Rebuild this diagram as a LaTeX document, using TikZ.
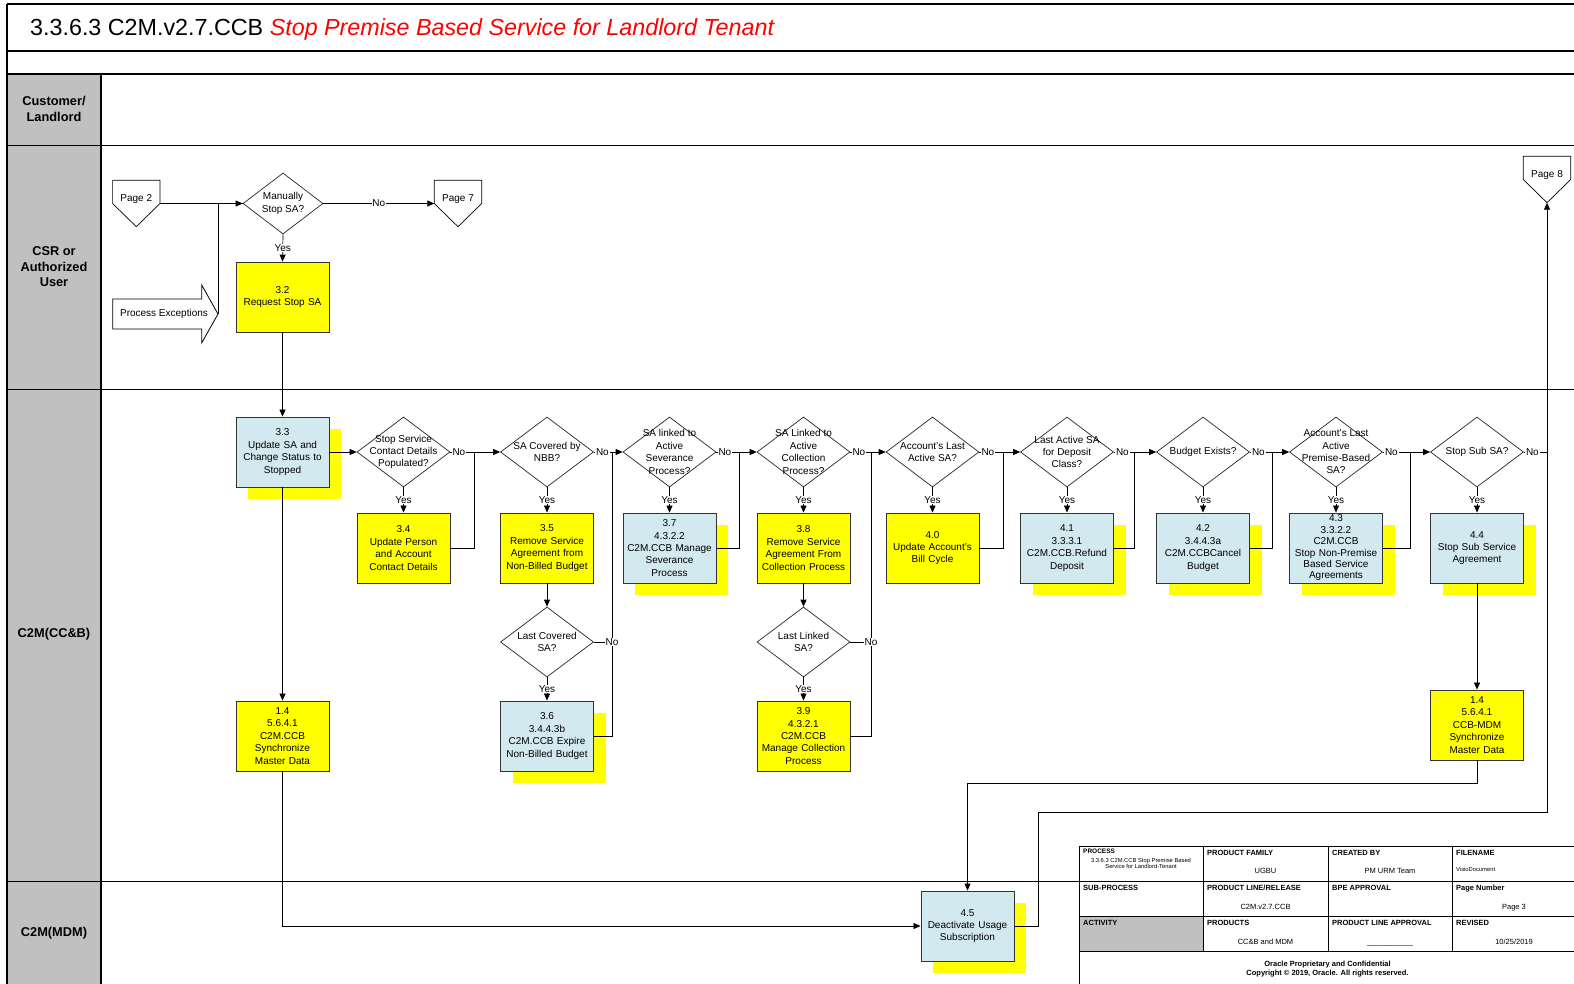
\documentclass[tikz,border=0pt]{standalone}
\usepackage{fontspec}
\setmainfont{Liberation Sans}
\usetikzlibrary{arrows.meta,shapes.geometric,shadows}

\definecolor{procyellow}{RGB}{255,255,0}
\definecolor{subblue}{RGB}{210,233,239}
\definecolor{lanegray}{RGB}{192,192,192}
\definecolor{titlered}{RGB}{255,0,0}

\begin{document}
\begin{tikzpicture}[x=1pt, y=-1pt]
\tikzset{
	proc/.style = {
		draw=black!80, line width=0.9pt,
		fill=procyellow,
		minimum width=93pt, minimum height=70pt,
		text width=90pt, inner sep=1.5pt, align=center,
		font=\fontsize{10}{12.4}\selectfont
	},
	sub/.style = {
		proc, fill=subblue,
		drop shadow={shadow xshift=12pt, shadow yshift=-12pt,
			fill=procyellow, opacity=1}
	},
	decision/.style = {
		diamond, draw=black!85, line width=0.7pt, fill=white,
		minimum width=93pt, minimum height=70pt, inner sep=0pt
	},
	dtext/.style = {
		align=center, inner sep=0pt,
		font=\fontsize{10}{12.4}\selectfont
	},
	offpage/.style = {
		minimum width=47pt, minimum height=46pt, inner sep=0pt
	},
	ptext/.style = {inner sep=0pt, yshift=4.5pt, font=\fontsize{10}{12}\selectfont},
	wire/.style = {draw, line width=0.7pt},
	flow/.style = {wire, -{Triangle[length=7pt, width=6pt]}},
	lbl/.style = {fill=white, inner sep=0.8pt, font=\fontsize{10}{12}\selectfont},
	nolbl/.style = {lbl, pos=0, anchor=west, xshift=1pt},
	lane/.style = {line width=1.3pt},
	lanelbl/.style = {align=center, font=\fontsize{12.8}{15.5}\selectfont\bfseries},
	tline/.style = {line width=0.7pt},
	thead/.style = {anchor=base west, inner sep=0pt, font=\fontsize{7.5}{9}\selectfont\bfseries},
	tval/.style = {anchor=base, inner sep=0pt, font=\fontsize{7.5}{9}\selectfont},
}
\useasboundingbox (0,0) rectangle (1574,984);

% swim lanes
\fill[lanegray] (7,74) rectangle (101,990);
\foreach \y in {4,51,74,145.5,389.5,881.5}
  \draw[lane] (7,\y) -- (1580,\y);
\draw[lane] (7,4) -- (7,990);
\draw[lane] (101,74) -- (101,990);

\node[anchor=base west, inner sep=0pt, font=\fontsize{23.3}{28}\selectfont] (title) at (30,35.5)
  {3.3.6.3 C2M.v2.7.CCB \textcolor{titlered}{\itshape Stop Premise Based Service for Landlord Tenant}};

\node[lanelbl] (lcust) at (54,109) {Customer/\\Landlord};
\node[lanelbl] (lcsr) at (54,267) {CSR or\\Authorized\\User};
\node[lanelbl] (lccb) at (54,634.5) {C2M(CC\&B)};
\node[lanelbl] (lmdm) at (54,933.5) {C2M(MDM)};

% entry points
\draw[wire, line width=0.8pt] (112.7,299) -- (201.7,299) -- (201.7,285) -- (218,314)
  -- (201.7,343) -- (201.7,329) -- (112.7,329) -- cycle;
\node[inner sep=0pt, font=\fontsize{10}{12}\selectfont] (pe) at (164,314) {Process Exceptions};
\coordinate (pet) at (218,314);

\node[offpage, label={[ptext]center:Page 2}] (p2) at (136.3,203.5) {};
\node[offpage, label={[ptext]center:Page 7}] (p7) at (458,203.5) {};
\node[offpage, label={[ptext]center:Page 8}] (p8) at (1547,179.5) {};
\foreach \p in {p2,p7,p8}
  \draw[wire] (\p.north west) -- (\p.north east) -- (\p.east) -- (\p.south) -- (\p.west) -- cycle;

% decisions
\node[decision, minimum width=80pt, minimum height=61pt,
  label={[dtext]center:Manually\\Stop SA?}] (ms) at (283,203.5) {};

\foreach \i/\x/\txt in {
  1/403.5/{Stop Service\\Contact Details\\Populated?},
  2/547/{SA Covered by\\NBB?},
  3/669.5/{SA linked to\\Active\\Severance\\Process?},
  4/803.5/{SA Linked to\\Active\\Collection\\Process?},
  5/932.5/{Account's Last\\Active SA?},
  6/1067/{Last Active SA\\for Deposit\\Class?},
  7/1203/{Budget Exists?},
  8/1336/{Account's Last\\Active\\Premise-Based\\SA?},
  9/1477/{Stop Sub SA?}}
  \node[decision, label={[dtext]center:\txt}] (d\i) at (\x,452) {};

\node[decision, label={[dtext]center:Last Covered\\SA?}] (lc) at (547,642) {};
\node[decision, label={[dtext]center:Last Linked\\SA?}] (ll) at (803.5,642) {};

% process steps
\node[proc] (s32) at (282.5,297) {3.2\\Request Stop SA};
\node[sub] (s33) at (282.5,452) {3.3\\Update SA and\\Change Status to\\Stopped};
\node[proc] (s14) at (282.5,736) {1.4\\5.6.4.1\\C2M.CCB\\Synchronize\\Master Data};

\node[proc] (b1) at (403.5,548) {3.4\\Update Person\\and Account\\Contact Details};
\node[proc] (b2) at (547,548) {3.5\\Remove Service\\Agreement from\\Non-Billed Budget};
\node[sub] (b3) at (669.5,548) {3.7\\4.3.2.2\\C2M.CCB Manage\\Severance\\Process};
\node[proc] (b4) at (803.5,548) {3.8\\Remove Service\\Agreement From\\Collection Process};
\node[proc] (b5) at (932.5,548) {4.0\\Update Account's\\Bill Cycle};
\node[sub] (b6) at (1067,548) {4.1\\3.3.3.1\\C2M.CCB.Refund\\Deposit};
\node[sub] (b7) at (1203,548) {4.2\\3.4.4.3a\\C2M.CCBCancel\\Budget};
\node[sub, font=\fontsize{10}{11.4}\selectfont] (b8) at (1336,548)
  {4.3\\3.3.2.2\\C2M.CCB\\Stop Non-Premise\\Based Service\\Agreements};
\node[sub] (b9) at (1477,548) {4.4\\Stop Sub Service\\Agreement};

\node[sub] (s36) at (547,736) {3.6\\3.4.4.3b\\C2M.CCB Expire\\Non-Billed Budget};
\node[proc] (s39) at (803.5,736) {3.9\\4.3.2.1\\C2M.CCB\\Manage Collection\\Process};
\node[proc] (m14) at (1477,725) {1.4\\5.6.4.1\\CCB-MDM\\Synchronize\\Master Data};
\node[sub] (s45) at (967.5,926) {4.5\\Deactivate Usage\\Subscription};

% junctions of the No branches
\foreach \i/\x in {1/474,2/612,3/739,4/871,5/1003,6/1134,7/1272,8/1410,9/1547}
  \coordinate (j\i) at (\x,452);
\coordinate (j9b) at (1547,812);

% attach them
\draw[flow] (p2.east) -- (ms.west);
\draw[wire] (pet) |- (ms.west);
\draw[flow] (ms.east) -- node[lbl]{No} (p7.west);
\draw[flow] (ms.south) -- node[lbl]{Yes} (s32.north);
\draw[flow] (s32.south) -- (s33.north);
\draw[flow] (s33.east) -- (d1.west);
\draw[flow] (s33.south) -- (s14.north);

\foreach \i in {1,...,9}
  \draw[flow] (d\i.south) -- node[lbl]{Yes} (b\i.north);
\foreach \i in {1,3,5,6,7,8}
  \draw[wire] (b\i.east) -| (j\i);
\foreach \i/\n in {1/2,2/3,3/4,4/5,5/6,6/7,7/8,8/9}{
  \draw[wire] (d\i.east) -- node[nolbl]{No} (j\i);
  \draw[flow] (j\i) -- (d\n.west);
}
\draw[wire] (d9.east) -- node[nolbl]{No} (j9);

\draw[flow] (b2.south) -- (lc.north);
\draw[flow] (lc.south) -- node[lbl]{Yes} (s36.north);
\draw[wire] (s36.east) -| (j2);
\draw[wire] (lc.east) -- node[lbl, pos=1]{No} (lc.east -| j2);

\draw[flow] (b4.south) -- (ll.north);
\draw[flow] (ll.south) -- node[lbl]{Yes} (s39.north);
\draw[wire] (s39.east) -| (j4);
\draw[wire] (ll.east) -- node[lbl, pos=1]{No} (ll.east -| j4);

\draw[flow] (b9.south) -- (m14.north);
\draw[flow] (m14.south) -- ++(0,23) -| (s45.north);
\draw[flow] (s14.south) |- (s45.west);
\draw[flow] (s45.east) -- ++(24,0) |- (j9b) -- (p8.south);

% title block
\fill[white] (1079,846) rectangle (1580,990);
\fill[lanegray] (1079,916) rectangle (1203,951);
\draw[tline] (1079,990) -- (1079,846) -- (1576,846) -- (1576,990);
\foreach \y in {881,916,951}
  \draw[tline] (1079,\y) -- (1576,\y);
\foreach \x in {1203,1328,1452}
  \draw[tline] (\x,846) -- (\x,951);

\node[thead, font=\fontsize{6.5}{8}\selectfont\bfseries] (th1) at (1083,853) {PROCESS};
\node[thead] (th2) at (1207,855) {PRODUCT FAMILY};
\node[thead] (th3) at (1332,855) {CREATED BY};
\node[thead] (th4) at (1456,855) {FILENAME};
\node[thead] (th5) at (1083,890) {SUB-PROCESS};
\node[thead] (th6) at (1207,890) {PRODUCT LINE/RELEASE};
\node[thead] (th7) at (1332,890) {BPE APPROVAL};
\node[thead] (th8) at (1456,890) {Page Number};
\node[thead] (th9) at (1083,925) {ACTIVITY};
\node[thead] (th10) at (1207,925) {PRODUCTS};
\node[thead] (th11) at (1332,925) {PRODUCT LINE APPROVAL};
\node[thead] (th12) at (1456,925) {REVISED};

\node[align=center, inner sep=0pt, font=\fontsize{5.8}{6.6}\selectfont] (tv0) at (1141,863.5)
  {3.3.6.3 C2M.CCB Stop Premise Based\\Service for Landlord-Tenant};
\node[tval] (tv1) at (1265.5,873) {UGBU};
\node[tval] (tv2) at (1390,873) {PM URM Team};
\node[tval, anchor=base west, font=\fontsize{5.8}{7}\selectfont] (tv3) at (1456,871.5) {VisioDocument};
\node[tval] (tv4) at (1265.5,909) {C2M.v2.7.CCB};
\node[tval] (tv5) at (1514,909) {Page 3};
\node[tval] (tv6) at (1265.5,944) {CC\&B and MDM};
\node[tval] (tv7) at (1390,944) {\_\_\_\_\_\_\_\_\_\_\_};
\node[tval] (tv8) at (1514,944) {10/25/2019};
\node[align=center, inner sep=0pt, font=\fontsize{7.5}{9.5}\selectfont\bfseries] (tfoot) at (1327.5,969)
  {Oracle Proprietary and Confidential\\Copyright © 2019, Oracle. All rights reserved.};

\end{tikzpicture}
\end{document}
